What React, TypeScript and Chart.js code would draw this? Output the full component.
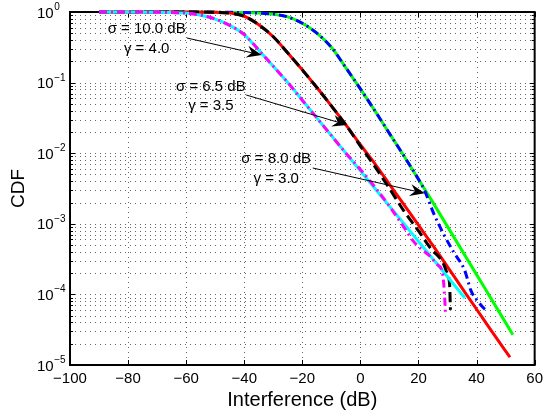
import React, { useEffect, useRef } from 'react';
import { Chart, registerables } from 'chart.js';

Chart.register(...registerables);

const FONT = '"Liberation Sans", Arial, Helvetica, sans-serif';

// axis ticks
const xTickValues = [-100, -80, -60, -40, -20, 0, 20, 40, 60];
const yDecades = [1e-5, 1e-4, 1e-3, 1e-2, 1e-1, 1];
const yDecadeExponents = ['\u22125', '\u22124', '\u22123', '\u22122', '\u22121', '0'];

// sigma = 10.0 dB, gamma = 4.0 : analytical (cyan) and simulated (magenta)
const xCyan = [-90, -80, -70, -65, -60, -55, -50, -45, -40, -35, -30, -25, -20, -15, -10, -5, 0, 5, 10, 15, 20, 25, 30, 36];
const yCyan = [1, 1, 0.9908, 0.9817, 0.9638, 0.9016, 0.7943, 0.6457, 0.4786, 0.2884, 0.1698, 0.1, 0.05623, 0.03162, 0.01778, 0.01, 0.005623, 0.003162, 0.001778, 0.001, 0.0005623, 0.0003162, 0.0001778, 0.00008913];
const xMagenta = [-90, -80, -70, -65, -60, -55, -50, -45, -40, -35, -30, -25, -20, -15, -10, -5, 0, 5, 10.5, 15, 18.5, 21, 24, 26.5, 28.2, 29, 29.3];
const yMagenta = [1, 1, 0.9908, 0.9817, 0.9638, 0.9016, 0.7943, 0.6457, 0.4786, 0.2884, 0.1698, 0.1, 0.05623, 0.03162, 0.01778, 0.01, 0.005888, 0.003311, 0.00166, 0.000891, 0.00055, 0.000437, 0.000347, 0.000263, 0.000209, 0.0000933, 0.0000525];

// sigma = 6.5 dB, gamma = 3.5 : analytical (red) and simulated (black)
const xRed = [-90, -60, -50, -45, -40, -35, -30, -25, -20, -15, -10, -5, 0, 5, 10, 15, 20, 25, 30, 35, 40, 45, 51.5];
const yRed = [1, 1, 0.9886, 0.9661, 0.871, 0.6607, 0.4467, 0.263, 0.1514, 0.08511, 0.04677, 0.02512, 0.01318, 0.007079, 0.003631, 0.001862, 0.000955, 0.0004898, 0.0002455, 0.000123, 0.00006166, 0.0000309, 0.00001288];
const xBlack = [-90, -60, -50, -45, -40, -35, -30, -25, -20, -15, -10, -5, 0, 5, 10, 15, 20, 24.2, 28.4, 30, 30.7, 31];
const yBlack = [1, 1, 0.9886, 0.9661, 0.871, 0.6607, 0.4467, 0.263, 0.1514, 0.08511, 0.04677, 0.02512, 0.01259, 0.006457, 0.003162, 0.001514, 0.000794, 0.000447, 0.000282, 0.00019, 0.000141, 0.0000603];

// sigma = 8.0 dB, gamma = 3.0 : analytical (green) and simulated (blue)
const xGreen = [-90, -50, -40, -35, -30, -25, -20, -15, -10, -5, 0, 5, 10, 15, 20, 25, 30, 35, 40, 45, 52.5];
const yGreen = [1, 0.9954, 0.9817, 0.966, 0.9333, 0.8511, 0.6918, 0.5012, 0.3162, 0.1622, 0.08128, 0.03981, 0.01905, 0.00912, 0.004266, 0.001995, 0.000912, 0.0004169, 0.0001905, 0.0000871, 0.0000269];
const xBlue = [-90, -50, -40, -35, -30, -25, -20, -15, -10, -5, 0, 5, 10, 15, 20, 22, 25.3, 28.7, 32.1, 35.9, 38.1, 40.5, 42.6, 44];
const yBlue = [1, 0.9954, 0.9817, 0.966, 0.9333, 0.8511, 0.6918, 0.5012, 0.3162, 0.1622, 0.08128, 0.03981, 0.01905, 0.00912, 0.004266, 0.00302, 0.00138, 0.000708, 0.000398, 0.000219, 0.000112, 0.0000794, 0.0000631, 0.0000575];

// annotation labels (data coordinates)
const annotationLines = [
  ['\u03c3 = 10.0 dB', '\u03b3 = 4.0'],
  ['\u03c3 = 6.5 dB', '\u03b3 = 3.5'],
  ['\u03c3 = 8.0 dB', '\u03b3 = 3.0'],
];
const annotationTextX = [-73.6, -51.5, -29.0];
const annotationTextY = [[0.574, 0.304], [0.0867, 0.0467], [0.00828, 0.00438]];
const arrowFrom = [[-59.7, 0.428], [-39.3, 0.0667], [-16.4, 0.00617]];
const arrowTo = [[-34.0, 0.246], [-4.5, 0.0251], [22.2, 0.0027]];

const pts = (xs: number[], ys: number[]) => xs.map((x, i) => ({ x, y: ys[i] }));

const yGridValues: number[] = [];
for (let d = 0; d < yDecades.length - 1; d++) {
  for (let k = 1; k <= 9; k++) yGridValues.push(yDecades[d] * k);
}
yGridValues.push(1);

const axesPlugin = {
  id: 'matlabAxes',
  beforeDatasetsDraw(chart: any) {
    const { ctx, chartArea: a, scales } = chart;
    const xs = scales.x;
    const ys = scales.y;
    ctx.save();
    // dotted grid
    ctx.lineWidth = 1;
    ctx.strokeStyle = 'rgba(0,0,0,0.6)';
    ctx.setLineDash([1, 4]);
    ctx.beginPath();
    xTickValues.forEach((v) => {
      const px = Math.round(xs.getPixelForValue(v)) + 0.5;
      if (px < a.left + 2 || px > a.right - 2) return;
      ctx.moveTo(px, a.top);
      ctx.lineTo(px, a.bottom);
    });
    yGridValues.forEach((v) => {
      const py = Math.round(ys.getPixelForValue(v)) + 0.5;
      if (py < a.top + 2 || py > a.bottom - 2) return;
      ctx.moveTo(a.left, py);
      ctx.lineTo(a.right, py);
    });
    ctx.stroke();
    ctx.setLineDash([]);
    // inward ticks
    ctx.strokeStyle = '#000';
    ctx.lineWidth = 1;
    ctx.beginPath();
    xTickValues.forEach((v) => {
      const px = Math.round(xs.getPixelForValue(v)) + 0.5;
      ctx.moveTo(px, a.bottom);
      ctx.lineTo(px, a.bottom - 5);
      ctx.moveTo(px, a.top);
      ctx.lineTo(px, a.top + 5);
    });
    yGridValues.forEach((v) => {
      const py = Math.round(ys.getPixelForValue(v)) + 0.5;
      const major = yDecades.some((d) => Math.abs(d - v) / d < 1e-6);
      const len = major ? 5 : 3;
      ctx.moveTo(a.left, py);
      ctx.lineTo(a.left + len, py);
      ctx.moveTo(a.right, py);
      ctx.lineTo(a.right - len, py);
    });
    ctx.stroke();
    // box
    ctx.lineWidth = 2;
    ctx.strokeRect(a.left, a.top, a.right - a.left, a.bottom - a.top);
    ctx.restore();
  },
  afterDatasetsDraw(chart: any) {
    const { ctx, scales } = chart;
    const xs = scales.x;
    const ys = scales.y;
    ctx.save();
    ctx.fillStyle = '#000';
    ctx.strokeStyle = '#000';
    ctx.font = `15px ${FONT}`;
    ctx.textAlign = 'center';
    ctx.textBaseline = 'middle';
    annotationLines.forEach((lines, i) => {
      lines.forEach((t, j) => {
        ctx.fillText(t, xs.getPixelForValue(annotationTextX[i]), ys.getPixelForValue(annotationTextY[i][j]));
      });
      const x1 = xs.getPixelForValue(arrowFrom[i][0]);
      const y1 = ys.getPixelForValue(arrowFrom[i][1]);
      const x2 = xs.getPixelForValue(arrowTo[i][0]);
      const y2 = ys.getPixelForValue(arrowTo[i][1]);
      const ang = Math.atan2(y2 - y1, x2 - x1);
      const L = 15;
      const W = 6;
      ctx.lineWidth = 1;
      ctx.beginPath();
      ctx.moveTo(x1, y1);
      ctx.lineTo(x2 - Math.cos(ang) * 10, y2 - Math.sin(ang) * 10);
      ctx.stroke();
      ctx.save();
      ctx.translate(x2, y2);
      ctx.rotate(ang);
      ctx.beginPath();
      ctx.moveTo(0, 0);
      ctx.lineTo(-L, -W);
      ctx.lineTo(-L + 5, 0);
      ctx.lineTo(-L, W);
      ctx.closePath();
      ctx.fill();
      ctx.restore();
    });
    ctx.restore();
  },
  afterDraw(chart: any) {
    const { ctx, scales } = chart;
    const ys = scales.y;
    ctx.save();
    ctx.fillStyle = '#000';
    ctx.textAlign = 'left';
    ctx.textBaseline = 'alphabetic';
    yDecades.forEach((v, i) => {
      const py = ys.getPixelForValue(v);
      ctx.font = `15px ${FONT}`;
      ctx.fillText('10', 37, py + 5.5);
      const w = ctx.measureText('10').width;
      ctx.font = `10px ${FONT}`;
      ctx.fillText(yDecadeExponents[i], 37 + w + 0.5, py - 2);
    });
    ctx.restore();
  },
};

export default function App() {
  const ref = useRef<HTMLCanvasElement | null>(null);
  useEffect(() => {
    if (!ref.current) return;
    const common = { pointRadius: 0, borderWidth: 3, fill: false, clip: false as any, cubicInterpolationMode: 'monotone' as const };
    const chart = new Chart(ref.current, {
      type: 'line',
      data: {
        datasets: [
          { ...common, label: 'sim 10/4', data: pts(xMagenta, yMagenta), borderColor: '#ff00ff', borderDash: [8, 4, 2, 4], order: 0 },
          { ...common, label: 'ana 10/4', data: pts(xCyan, yCyan), borderColor: '#00ffff', order: 1 },
          { ...common, label: 'sim 6.5/3.5', data: pts(xBlack, yBlack), borderColor: '#000000', borderDash: [10, 5], order: 2 },
          { ...common, label: 'ana 6.5/3.5', data: pts(xRed, yRed), borderColor: '#ff0000', order: 3 },
          { ...common, label: 'sim 8/3', data: pts(xBlue, yBlue), borderColor: '#0000ff', borderDash: [8, 4, 2, 4], order: 4 },
          { ...common, label: 'ana 8/3', data: pts(xGreen, yGreen), borderColor: '#00ff00', order: 5 },
        ],
      },
      options: {
        animation: false,
        responsive: false,
        maintainAspectRatio: false,
        layout: { padding: { left: 0, right: 9, top: 12, bottom: 0 } },
        plugins: { legend: { display: false }, tooltip: { enabled: false } },
        events: [],
        scales: {
          x: {
            type: 'linear',
            min: -100,
            max: 60,
            afterFit: (s: any) => { s.height = 52; },
            grid: { display: false, drawTicks: false },
            border: { display: false },
            ticks: {
              stepSize: 20,
              autoSkip: false,
              maxRotation: 0,
              padding: 5,
              color: '#000',
              font: { family: FONT, size: 15 },
              callback: (v: any) => String(v).replace('-', '\u2212'),
            },
            title: {
              display: true,
              text: 'Interference (dB)',
              color: '#000',
              font: { family: FONT, size: 20 },
              padding: { top: 0, bottom: 5 },
            },
          },
          y: {
            type: 'logarithmic',
            min: 1e-5,
            max: 1,
            afterFit: (s: any) => { s.width = 70; },
            grid: { display: false, drawTicks: false },
            border: { display: false },
            ticks: { display: false },
            title: {
              display: true,
              text: 'CDF',
              color: '#000',
              font: { family: FONT, size: 19 },
              padding: { top: 7, bottom: 0 },
            },
          },
        },
      },
      plugins: [axesPlugin],
    });
    return () => chart.destroy();
  }, []);
  return (
    <div style={{ position: 'absolute', left: 0, top: 0, width: 548, height: 417, background: '#fff' }}>
      <canvas ref={ref} width={548} height={417} />
    </div>
  );
}
